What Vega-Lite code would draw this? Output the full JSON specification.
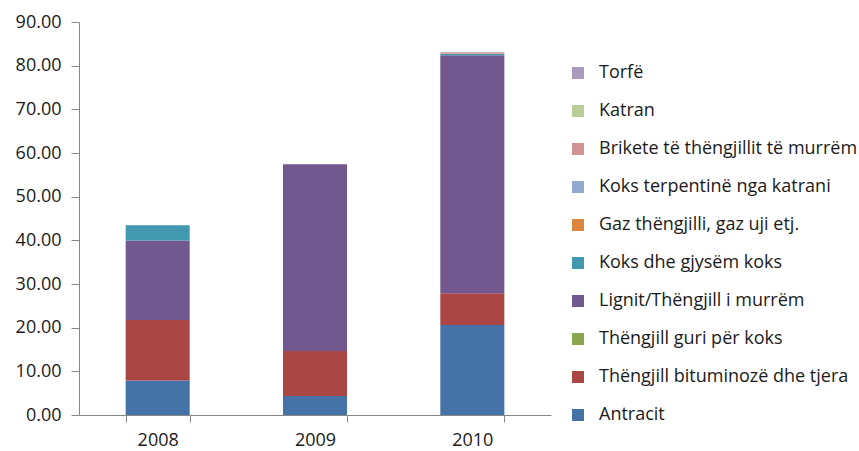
{
  "$schema": "https://vega.github.io/schema/vega-lite/v6.json",
  "width": 472,
  "height": 393,
  "autosize": "none",
  "padding": {"left": 79, "top": 22, "right": 308, "bottom": 36},
  "background": "white",
  "config": {
    "view": {"stroke": null},
    "font": "Open Sans",
    "axis": {"labelFont": "Open Sans", "labelColor": "#1a1a1a", "domainColor": "#868686", "tickColor": "#868686", "grid": false, "title": null}
  },
  "data": {
    "values": [
      {"year": "2008", "type": "Antracit", "rank": 1, "value": 7.9},
      {"year": "2008", "type": "Thëngjill bituminozë dhe tjera", "rank": 2, "value": 13.85},
      {"year": "2008", "type": "Thëngjill guri për koks", "rank": 3, "value": 0},
      {"year": "2008", "type": "Lignit/Thëngjill i murrëm", "rank": 4, "value": 18.2},
      {"year": "2008", "type": "Koks dhe gjysëm koks", "rank": 5, "value": 3.5},
      {"year": "2009", "type": "Antracit", "rank": 1, "value": 4.35},
      {"year": "2009", "type": "Thëngjill bituminozë dhe tjera", "rank": 2, "value": 10.3},
      {"year": "2009", "type": "Lignit/Thëngjill i murrëm", "rank": 4, "value": 42.75},
      {"year": "2010", "type": "Antracit", "rank": 1, "value": 20.6},
      {"year": "2010", "type": "Thëngjill bituminozë dhe tjera", "rank": 2, "value": 7.3},
      {"year": "2010", "type": "Lignit/Thëngjill i murrëm", "rank": 4, "value": 54.5},
      {"year": "2010", "type": "Koks dhe gjysëm koks", "rank": 5, "value": 0.35},
      {"year": "2010", "type": "Gaz thëngjilli, gaz uji etj.", "rank": 6, "value": 0},
      {"year": "2010", "type": "Koks terpentinë nga katrani", "rank": 7, "value": 0},
      {"year": "2010", "type": "Brikete të thëngjillit të murrëm", "rank": 8, "value": 0.3},
      {"year": "2010", "type": "Katran", "rank": 9, "value": 0},
      {"year": "2010", "type": "Torfë", "rank": 10, "value": 0}
    ]
  },
  "mark": {"type": "bar"},
  "encoding": {
    "x": {
      "field": "year", "type": "nominal",
      "scale": {"paddingInner": 0.593, "paddingOuter": 0.2966},
      "axis": {"labelAngle": 0, "labelFontSize": 18, "tickBand": "extent", "tickSize": 7, "labelPadding": 9}
    },
    "y": {
      "field": "value", "type": "quantitative", "aggregate": "sum", "stack": "zero",
      "scale": {"domain": [0, 90], "nice": false},
      "axis": {"values": [0, 10, 20, 30, 40, 50, 60, 70, 80, 90], "format": ".2f", "labelFontSize": 18, "tickSize": 8, "labelPadding": 10}
    },
    "order": {"field": "rank", "type": "quantitative", "sort": "ascending"},
    "color": {
      "field": "type", "type": "nominal",
      "scale": {
        "domain": ["Torfë", "Katran", "Brikete të thëngjillit të murrëm", "Koks terpentinë nga katrani", "Gaz thëngjilli, gaz uji etj.", "Koks dhe gjysëm koks", "Lignit/Thëngjill i murrëm", "Thëngjill guri për koks", "Thëngjill bituminozë dhe tjera", "Antracit"],
        "range": ["#A99BBD", "#B9CD96", "#D19392", "#93A9CF", "#DB843D", "#4198AF", "#71588F", "#89A54E", "#AA4643", "#4572A7"]
      },
      "legend": {
        "title": null, "orient": "none", "legendX": 490, "legendY": 42,
        "symbolType": "square", "symbolSize": 144, "symbolStrokeWidth": 0,
        "labelFontSize": 18, "labelColor": "#1a1a1a", "labelFont": "Open Sans",
        "labelOffset": 12, "rowPadding": 20, "labelLimit": 300
      }
    }
  }
}
